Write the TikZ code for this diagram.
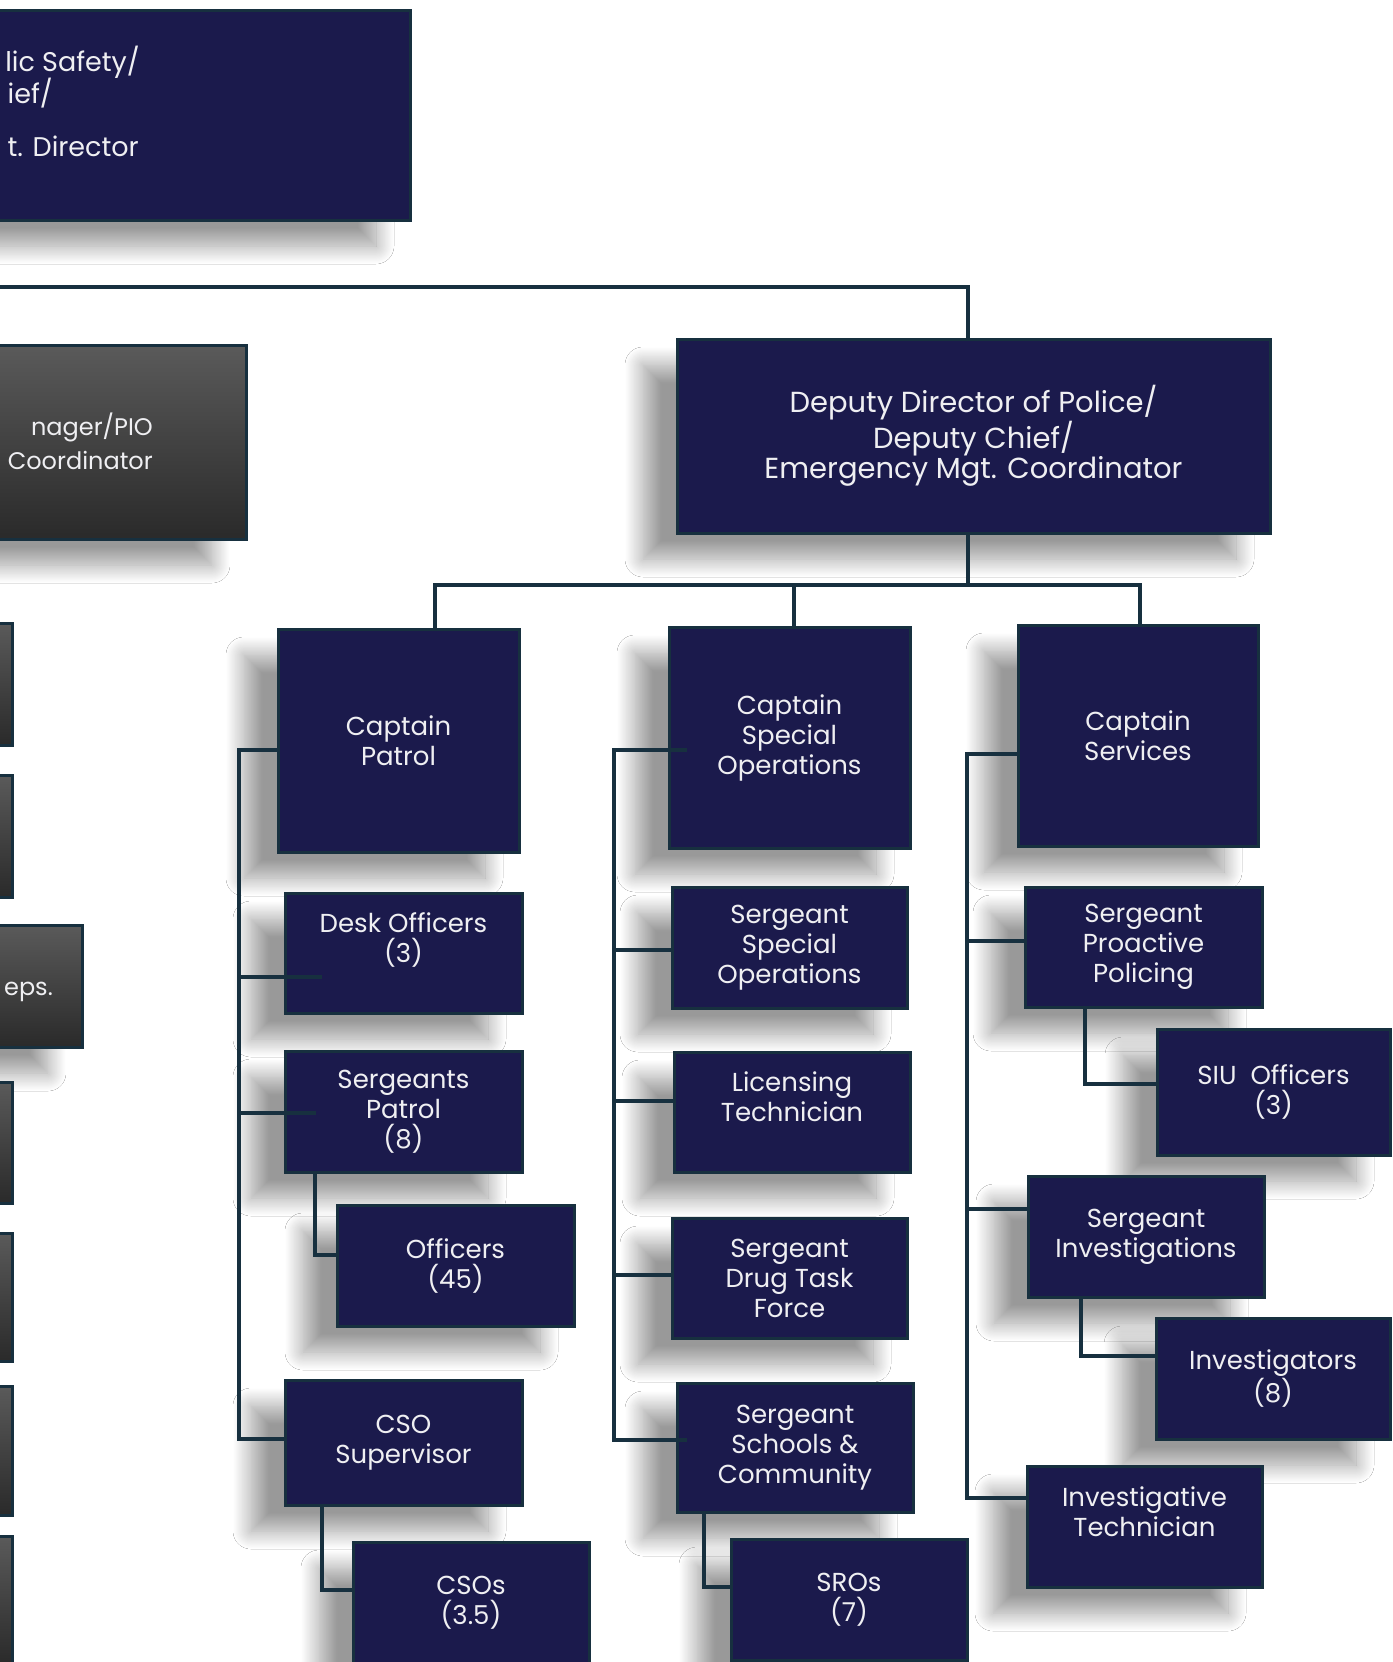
\documentclass[tikz,border=0pt]{standalone}
\usepackage{fontspec}
\setmainfont{Poppins}
\usetikzlibrary{calc,shadows.blur}

\definecolor{navy}{HTML}{1B1A4C}
\definecolor{edge}{HTML}{17303F}
\definecolor{greytop}{HTML}{5A5A5A}
\definecolor{greybot}{HTML}{2A2A2A}
\definecolor{ink}{HTML}{EFEFF2}

\tikzset{
  postbox/.style={draw=edge, line width=3pt, fill=navy, text=ink, align=center,
    font=\fontsize{26}{30}\selectfont, inner sep=2pt,
    blur shadow={shadow xshift=-34pt, shadow yshift=-26pt, shadow blur radius=18pt,
      shadow blur steps=20, shadow opacity=40}},
  greybox/.style={postbox, top color=greytop, bottom color=greybot},
  sgtbox/.style={postbox, minimum width=236pt, minimum height=121pt},
  captbox/.style={postbox, minimum width=241pt, minimum height=222pt},
  wire/.style={draw=edge, line width=3.5pt},
  frag/.style={text=ink, font=\fontsize{24}{34}\selectfont, inner sep=0pt},
}

\begin{document}
\begin{tikzpicture}[x=1pt, y=-1pt]
  \useasboundingbox (0,0) rectangle (1392,1662);
  \fill[white] (0,0) rectangle (1392,1662);

  % boxes cut by the left edge
  \node[postbox, minimum width=610pt, minimum height=209pt] (director) at (105,115.5) {};
  \node[frag, font=\fontsize{27}{32}\selectfont, anchor=base east] (dir1) at (140,71) {lic Safety/};
  \node[frag, font=\fontsize{27}{32}\selectfont, anchor=base east] (dir2) at (53,103) {ief/};
  \node[frag, font=\fontsize{27}{32}\selectfont, anchor=base east] (dir3) at (139,156) {t. Director};

  \node[greybox, minimum width=446pt, minimum height=194pt] (pio) at (23,442) {};
  \node[frag, align=right, anchor=east] (piotext) at (153,441) {nager/PIO\\Coordinator};

  \node[greybox, minimum width=212pt, minimum height=122pt] (ga) at (-94,684) {};
  \node[greybox, minimum width=212pt, minimum height=122pt] (gb) at (-94,836) {};
  \node[greybox, minimum width=282pt, minimum height=122pt] (reps) at (-59,986) {};
  \node[frag, anchor=east] (repstext) at (53,992) {eps.};
  \node[greybox, minimum width=212pt, minimum height=121pt] (gd) at (-94,1142.5) {};
  \node[greybox, minimum width=212pt, minimum height=128pt] (ge) at (-94,1297) {};
  \node[greybox, minimum width=212pt, minimum height=129pt] (gf) at (-94,1450.5) {};
  \node[greybox, minimum width=212pt, minimum height=128pt] (gg) at (-94,1600) {};

  % deputy and captains
  \node[postbox, minimum width=593pt, minimum height=194pt, font=\fontsize{29}{30.5}\selectfont] (deputy) at (973.5,436)
    {Deputy Director of Police/\\Deputy Chief/\\Emergency Mgt. Coordinator};
  \node[captbox, minimum height=223pt] (cpatrol) at (398.5,740.5) {Captain\\Patrol};
  \node[captbox, minimum height=221pt] (cspec) at (789.5,737.5) {Captain\\Special\\Operations};
  \node[captbox, minimum width=240pt, minimum height=221pt] (cserv) at (1138,735.5) {Captain\\Services};

  % patrol
  \node[sgtbox, minimum width=237pt, minimum height=120pt] (desk) at (403.5,953) {Desk Officers\\(3)\\\mbox{}};
  \node[sgtbox, minimum width=237pt] (sgtpatrol) at (403.5,1111.5) {Sergeants\\Patrol\\(8)};
  \node[sgtbox, minimum width=237pt] (officers) at (455.5,1265.5) {Officers\\(45)};
  \node[sgtbox, minimum width=237pt, minimum height=125pt] (csosup) at (403.5,1442.5) {CSO\\Supervisor};
  \node[sgtbox] (csos) at (471,1602.5) {CSOs\\(3.5)};

  % special operations
  \node[sgtbox, minimum width=235pt] (sgtspec) at (789.5,947.5) {Sergeant\\Special\\Operations};
  \node[sgtbox, minimum height=120pt] (licensing) at (792,1112) {Licensing\\Technician\\\mbox{}};
  \node[sgtbox, minimum width=235pt, minimum height=120pt] (drug) at (789.5,1278) {Sergeant\\Drug Task\\Force};
  \node[sgtbox, minimum height=129pt] (schools) at (795,1447.5) {Sergeant\\Schools \&\\Community};
  \node[sgtbox] (sros) at (849,1599.5) {SROs\\(7)};

  % services
  \node[sgtbox, minimum width=237pt, minimum height=120pt] (proactive) at (1143.5,947) {Sergeant\\Proactive\\Policing};
  \node[sgtbox, minimum width=233pt, minimum height=126pt] (siu) at (1273.5,1092) {SIU\ \ Officers\\(3)};
  \node[sgtbox] (sgtinv) at (1146,1236.5) {Sergeant\\Investigations};
  \node[sgtbox, minimum width=234pt] (investigators) at (1273,1378.5) {Investigators\\(8)};
  \node[sgtbox, minimum width=235pt] (invtech) at (1144.5,1526.5) {Investigative\\Technician\\\mbox{}};

  % top feed and deputy bus
  \coordinate (feed) at (-10,287);
  \coordinate (busl) at (435,585);
  \coordinate (busr) at (1140,585);
  \draw[wire] (feed) -| ($(deputy.north)+(-5.5,0)$);
  \draw[wire] ($(deputy.south)+(-5.5,0)$) |- (busl);
  \draw[wire] (cpatrol.north -| busl) -- (busl) -| (busr |- cserv.north);
  \draw[wire] ($(cspec.north)+(4.5,0)$) -- ++(0,-42);

  % patrol spine
  \coordinate (pt) at (239,750);
  \coordinate (pd) at (239,977);
  \coordinate (ps) at (239,1113);
  \coordinate (pb) at (239,1439);
  \coordinate (po) at (315,1255);
  \coordinate (pc) at (322,1590);
  \draw[wire] (cpatrol.west |- pt) -- (pt) -- (pb) -- (pb -| csosup.west);
  \draw[wire] (pd) -- ($(pd -| desk.west)+(38,0)$);
  \draw[wire] (ps) -- ($(ps -| sgtpatrol.west)+(32,0)$);
  \draw[wire] (sgtpatrol.south -| po) -- (po) -- (po -| officers.west);
  \draw[wire] (csosup.south -| pc) -- (pc) -- (pc -| csos.west);

  % special operations spine
  \coordinate (st) at (614,750);
  \coordinate (ss) at (614,950);
  \coordinate (sl) at (614,1101);
  \coordinate (sd) at (614,1275);
  \coordinate (sb) at (614,1440);
  \coordinate (sr) at (704,1587);
  \draw[wire] ($(st -| cspec.west)+(19,0)$) -- (st) -- (sb) -- ($(sb -| schools.west)+(11,0)$);
  \draw[wire] (ss) -- (ss -| sgtspec.west);
  \draw[wire] (sl) -- (sl -| licensing.west);
  \draw[wire] (sd) -- (sd -| drug.west);
  \draw[wire] (schools.south -| sr) -- (sr) -- (sr -| sros.west);

  % services spine
  \coordinate (vt) at (967,754);
  \coordinate (vp) at (967,941);
  \coordinate (vi) at (967,1209);
  \coordinate (vb) at (967,1498);
  \coordinate (vs) at (1085,1084);
  \coordinate (vn) at (1081,1356);
  \draw[wire] (cserv.west |- vt) -- (vt) -- (vb) -- (vb -| invtech.west);
  \draw[wire] (vp) -- (vp -| proactive.west);
  \draw[wire] (vi) -- (vi -| sgtinv.west);
  \draw[wire] (proactive.south -| vs) -- (vs) -- (vs -| siu.west);
  \draw[wire] (sgtinv.south -| vn) -- (vn) -- (vn -| investigators.west);
\end{tikzpicture}
\end{document}
